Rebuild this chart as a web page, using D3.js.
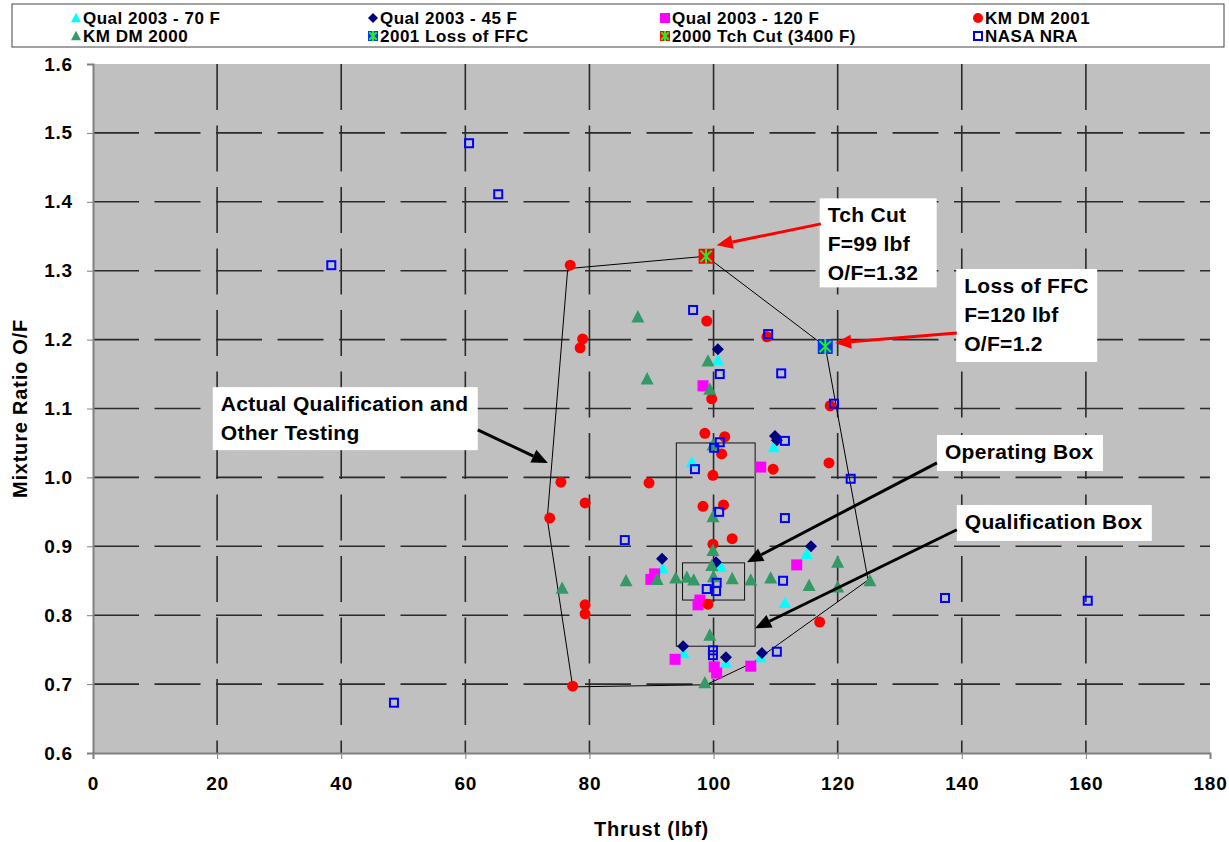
<!DOCTYPE html>
<html>
<head>
<meta charset="utf-8">
<script src="https://cdn.jsdelivr.net/npm/d3@7"></script>
<style>
  body { margin: 0; background: #fff; }
  svg { display: block; font-family: "Liberation Sans", Arial, sans-serif; }
</style>
</head>
<body>
<svg id="chart" width="1229" height="842"></svg>
<script>
// ---- data: [thrust lbf, mixture ratio O/F] ----
const qual70 = [
  [100.7, 1.170], [96.5, 1.022], [109.7, 1.044], [91.8, 0.868], [101.2, 0.870],
  [115.0, 0.889], [111.5, 0.818], [95.2, 0.745], [102.0, 0.731], [107.6, 0.739]
];
const qual45 = [
  [100.7, 1.186], [109.9, 1.060], [110.2, 1.054], [91.7, 0.882], [100.4, 0.877],
  [115.7, 0.900], [95.1, 0.755], [102.0, 0.739], [107.8, 0.745]
];
const qual120 = [
  [98.3, 1.133], [107.6, 1.015], [89.9, 0.852], [90.5, 0.860], [97.5, 0.815],
  [97.8, 0.822], [113.4, 0.873], [93.8, 0.736], [100.1, 0.725], [100.5, 0.716],
  [106.0, 0.726]
];
const kmdm2001 = [
  [76.9, 1.308], [78.9, 1.201], [78.5, 1.188], [98.9, 1.227], [108.6, 1.204],
  [99.7, 1.114], [118.8, 1.104], [98.6, 1.064], [101.8, 1.059], [101.3, 1.034],
  [118.6, 1.021], [109.6, 1.012], [99.9, 1.003], [75.4, 0.993], [89.6, 0.992],
  [79.3, 0.963], [73.6, 0.941], [98.3, 0.958], [101.6, 0.960], [103.0, 0.911],
  [99.9, 0.903], [79.3, 0.815], [79.3, 0.802], [99.1, 0.816], [117.1, 0.790],
  [77.3, 0.697]
];
const kmdm2000 = [
  [87.8, 1.233], [89.3, 1.143], [99.1, 1.169], [99.4, 1.128], [99.9, 1.047],
  [99.9, 0.943], [99.9, 0.894], [75.6, 0.839], [85.9, 0.850], [90.9, 0.852],
  [93.9, 0.854], [95.7, 0.855], [96.8, 0.851], [99.7, 0.872], [100.0, 0.856],
  [103.0, 0.853], [106.0, 0.851], [109.2, 0.854], [115.4, 0.843], [120.0, 0.877],
  [120.0, 0.841], [125.2, 0.850], [99.4, 0.771], [98.6, 0.702]
];
const lossFFC = [[118.0, 1.190]];
const tchCut = [[98.8, 1.321]];
const nasaNRA = [
  [60.6, 1.485], [65.3, 1.411], [38.4, 1.308], [48.5, 0.673], [96.7, 1.243],
  [108.8, 1.208], [101.0, 1.150], [110.9, 1.151], [119.4, 1.107], [111.5, 1.053],
  [101.0, 1.051], [100.1, 1.043], [97.0, 1.012], [122.1, 0.998], [100.9, 0.950],
  [111.5, 0.941], [85.7, 0.909], [98.9, 0.838], [100.5, 0.847], [100.4, 0.835],
  [99.9, 0.749], [99.9, 0.742], [110.2, 0.747], [111.2, 0.850], [137.3, 0.825],
  [160.3, 0.821]
];

// test envelope and the two boxes
const envelope = [
  [76.5, 1.303], [98.8, 1.321], [118.0, 1.190], [124.9, 0.851], [106.3, 0.731],
  [98.8, 0.699], [77.3, 0.696], [73.2, 0.940]
];
const qualBox = [[94.0, 0.755], [106.7, 1.050]];
const operatingBox = [[95.0, 0.822], [105.0, 0.876]];

const xTicks = [0, 20, 40, 60, 80, 100, 120, 140, 160, 180];
const yTicks = [0.6, 0.7, 0.8, 0.9, 1.0, 1.1, 1.2, 1.3, 1.4, 1.5, 1.6];

const series = [
  { name: "Qual 2003 - 70 F", data: qual70, shape: "triangle", fill: "#00FFFF", size: 12 },
  { name: "Qual 2003 - 45 F", data: qual45, shape: "diamond", fill: "#000080", size: 12 },
  { name: "Qual 2003 - 120 F", data: qual120, shape: "square", fill: "#FF00FF", size: 11 },
  { name: "KM DM 2001", data: kmdm2001, shape: "circle", fill: "#FF0000", size: 11 },
  { name: "KM DM 2000", data: kmdm2000, shape: "triangle", fill: "#339966", size: 13 },
  { name: "2001 Loss of FFC", data: lossFFC, shape: "star", fill: "#0033FF", size: 15 },
  { name: "2000 Tch Cut (3400 F)", data: tchCut, shape: "star", fill: "#FF0000", size: 15 },
  { name: "NASA NRA", data: nasaNRA, shape: "open", fill: "#0000FF", size: 10 }
];

// annotation boxes: top-left corner in data units, size in px
const notes = [
  { lines: ["Tch Cut", "F=99 lbf", "O/F=1.32"], at: [117.1, 1.405], w: 117, h: 89,
    arrow: [[117.3, 1.368], [100.5, 1.337]], color: "#FF0000" },
  { lines: ["Loss of FFC", "F=120 lbf", "O/F=1.2"], at: [139.1, 1.3025], w: 141, h: 93,
    arrow: [[139.2, 1.2096], [119.6, 1.195]], color: "#FF0000" },
  { lines: ["Actual Qualification and", "Other Testing"], at: [19.3, 1.131], w: 265, h: 63,
    arrow: [[62.0, 1.069], [73.3, 1.021]], color: "#000" },
  { lines: ["Operating Box"], at: [136.0, 1.0615], w: 166, h: 36,
    arrow: [[136.0, 1.021], [105.4, 0.877]], color: "#000" },
  { lines: ["Qualification Box"], at: [139.2, 0.960], w: 195, h: 36,
    arrow: [[139.2, 0.924], [106.7, 0.781]], color: "#000" }
];

const svg = d3.select("#chart");
const plot = { left: 93, top: 64, right: 1210, bottom: 753 };

const x = d3.scaleLinear().domain([0, 180]).range([plot.left, plot.right]);
const y = d3.scaleLinear().domain([0.6, 1.6]).range([plot.bottom, plot.top]);

// plot background
svg.append("rect")
  .attr("x", plot.left).attr("y", plot.top)
  .attr("width", plot.right - plot.left).attr("height", plot.bottom - plot.top)
  .attr("fill", "#C0C0C0");

// dashed gridlines
const grid = svg.append("g").attr("stroke", "#2a2a2a").attr("stroke-width", 1.6)
  .attr("stroke-dasharray", "46,15.5");
grid.selectAll(".h").data(yTicks.slice(1, -1)).enter().append("line")
  .attr("x1", plot.left).attr("x2", plot.right)
  .attr("y1", (d) => y(d)).attr("y2", (d) => y(d));
grid.selectAll(".v").data(xTicks.slice(1, -1)).enter().append("line")
  .attr("y1", plot.top).attr("y2", plot.bottom)
  .attr("x1", (d) => x(d)).attr("x2", (d) => x(d));

// axes
const xAxis = svg.append("g")
  .attr("transform", `translate(0,${plot.bottom})`)
  .call(d3.axisBottom(x).tickValues(xTicks).tickSize(6).tickPadding(18).tickFormat(d3.format("d")));
const yAxis = svg.append("g")
  .attr("transform", `translate(${plot.left},0)`)
  .call(d3.axisLeft(y).tickValues(yTicks).tickSize(6).tickPadding(14).tickFormat(d3.format(".1f")));

[xAxis, yAxis].forEach((a) => {
  a.select(".domain").attr("stroke", "#808080").attr("stroke-width", 2);
  a.selectAll(".tick line").attr("stroke", "#808080");
  a.selectAll(".tick text").attr("font-size", 19).attr("font-weight", "bold")
    .attr("letter-spacing", 0.8)
    .attr("font-family", "Liberation Sans, Arial, sans-serif").attr("fill", "#000");
});

// axis titles
svg.append("text")
  .attr("x", x(90)).attr("y", 836)
  .attr("text-anchor", "middle").attr("font-size", 20).attr("font-weight", "bold")
  .attr("letter-spacing", 0.8)
  .text("Thrust (lbf)");
svg.append("text")
  .attr("transform", `translate(27,${y(1.1)}) rotate(-90)`)
  .attr("text-anchor", "middle").attr("font-size", 20).attr("font-weight", "bold")
  .attr("letter-spacing", 0.8)
  .text("Mixture Ratio O/F");

// envelope and boxes
svg.append("path")
  .attr("d", d3.line().x((d) => x(d[0])).y((d) => y(d[1]))(envelope) + "Z")
  .attr("fill", "none").attr("stroke", "#000").attr("stroke-width", 1);
[qualBox, operatingBox].forEach((b) => {
  svg.append("rect")
    .attr("x", x(b[0][0])).attr("y", y(b[1][1]))
    .attr("width", x(b[1][0]) - x(b[0][0])).attr("height", y(b[0][1]) - y(b[1][1]))
    .attr("fill", "none").attr("stroke", "#111").attr("stroke-width", 1);
});

// marker drawing
function marker(g, shape, cx, cy, s, fill) {
  const h = s / 2;
  if (shape === "triangle") {
    g.append("path")
      .attr("d", `M${cx},${cy - h * 1.05}L${cx + h},${cy + h * 0.85}L${cx - h},${cy + h * 0.85}Z`)
      .attr("fill", fill);
  } else if (shape === "diamond") {
    g.append("path")
      .attr("d", `M${cx},${cy - h}L${cx + h},${cy}L${cx},${cy + h}L${cx - h},${cy}Z`)
      .attr("fill", fill);
  } else if (shape === "square") {
    g.append("rect").attr("x", cx - h).attr("y", cy - h).attr("width", s).attr("height", s)
      .attr("fill", fill);
  } else if (shape === "circle") {
    g.append("circle").attr("cx", cx).attr("cy", cy).attr("r", h).attr("fill", fill);
  } else if (shape === "open") {
    g.append("rect").attr("x", cx - h + 1).attr("y", cy - h + 1)
      .attr("width", s - 2).attr("height", s - 2)
      .attr("fill", "none").attr("stroke", fill).attr("stroke-width", 2);
  } else if (shape === "star") {
    g.append("rect").attr("x", cx - h).attr("y", cy - h).attr("width", s).attr("height", s)
      .attr("fill", fill);
    const k = h * 0.75;
    g.append("path")
      .attr("d", `M${cx - k},${cy - k}L${cx + k},${cy + k}M${cx + k},${cy - k}L${cx - k},${cy + k}M${cx},${cy - h}L${cx},${cy + h}`)
      .attr("stroke", "#22EE22").attr("stroke-width", 2).attr("fill", "none");
  }
}

// points
const points = svg.append("g");
series.forEach((s) => {
  const g = points.append("g").attr("class", "series");
  s.data.forEach((d) => marker(g, s.shape, x(d[0]), y(d[1]), s.size, s.fill));
});

// annotations
function arrow(g, p0, p1, color) {
  const x0 = x(p0[0]), y0 = y(p0[1]), x1 = x(p1[0]), y1 = y(p1[1]);
  const ang = Math.atan2(y1 - y0, x1 - x0);
  const len = 16, wid = 7;
  const bx = x1 - len * Math.cos(ang), by = y1 - len * Math.sin(ang);
  g.append("line").attr("x1", x0).attr("y1", y0).attr("x2", bx).attr("y2", by)
    .attr("stroke", color).attr("stroke-width", 3);
  g.append("path")
    .attr("d", `M${x1},${y1}L${bx + wid * Math.sin(ang)},${by - wid * Math.cos(ang)}L${bx - wid * Math.sin(ang)},${by + wid * Math.cos(ang)}Z`)
    .attr("fill", color);
}

const notesG = svg.append("g");
notes.forEach((n) => {
  const bx = x(n.at[0]), by = y(n.at[1]);
  notesG.append("rect").attr("x", bx).attr("y", by).attr("width", n.w).attr("height", n.h)
    .attr("fill", "#fff");
  n.lines.forEach((t, i) => {
    notesG.append("text")
      .attr("x", bx + 8).attr("y", by + 24 + i * 29)
      .attr("font-size", 21).attr("font-weight", "bold").attr("letter-spacing", 0.3)
      .text(t);
  });
  arrow(notesG, n.arrow[0], n.arrow[1], n.color);
});

// legend
const legend = svg.append("g");
legend.append("rect").attr("x", 12).attr("y", 4).attr("width", 1212).attr("height", 43)
  .attr("fill", "#fff").attr("stroke", "#444").attr("stroke-width", 1);
const colX = [76, 373, 665, 978];
series.forEach((s, i) => {
  const cx = colX[i % 4], cy = i < 4 ? 18 : 36;
  marker(legend, s.shape, cx, cy, Math.min(s.size, 10), s.fill);
  legend.append("text").attr("x", cx + 7).attr("y", cy + 6)
    .attr("font-size", 17).attr("font-weight", "bold").attr("letter-spacing", 0.5)
    .text(s.name);
});
</script>
</body>
</html>
